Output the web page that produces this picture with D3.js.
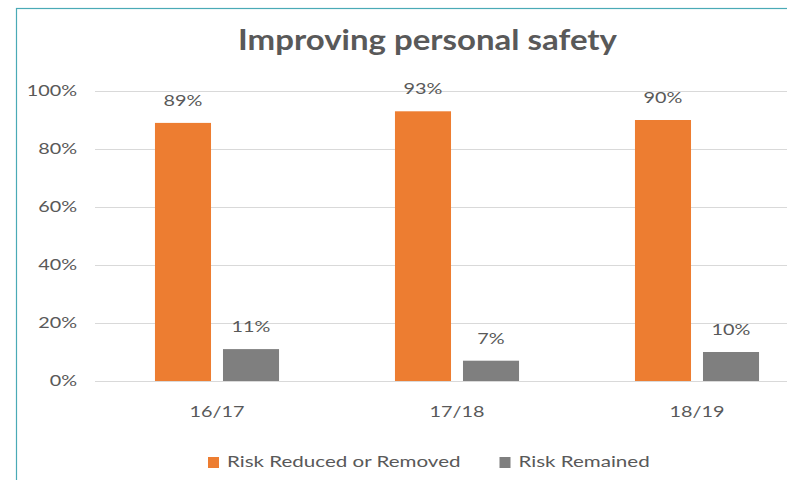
<!DOCTYPE html>
<html>
<head>
<meta charset="utf-8">
<script src="https://cdn.jsdelivr.net/npm/d3@7"></script>
<style>
  body { margin: 0; background: #fff; }
  svg { display: block; font-family: Lato, "Open Sans", sans-serif; }
</style>
</head>
<body>
<svg id="chart"></svg>
<script>
// chart data
const categories = ['16/17', '17/18', '18/19'];
const seriesNames = ['Risk Reduced or Removed', 'Risk Remained'];
const reducedValues = [89, 93, 90];
const remainedValues = [11, 7, 10];
const yTicks = [0, 20, 40, 60, 80, 100];

const colors = ['#ed7d31', '#7f7f7f'];
const textColor = '#595959';
const stretch = 1.32; // text in the picture is drawn wide

const width = 787, height = 480;
const margin = {top: 91, left: 95, right: 817, bottom: 381};

const svg = d3.select('#chart')
    .attr('width', width)
    .attr('height', height);

// widen a text element horizontally to mimic the reference
function widen(sel, k) {
  sel.each(function() {
    const w = this.getComputedTextLength();
    d3.select(this)
      .attr('textLength', w * k)
      .attr('lengthAdjust', 'spacingAndGlyphs');
  });
}

// outer frame (only left/top edges visible)
svg.append('rect')
    .attr('x', 16.5)
    .attr('y', 8.5)
    .attr('width', 900)
    .attr('height', 600)
    .attr('fill', 'none')
    .attr('stroke', '#4aaab6')
    .attr('stroke-width', 1.2);

// title
svg.append('text')
    .attr('x', 238)
    .attr('y', 50)
    .attr('font-size', 28)
    .attr('font-weight', 'bold')
    .attr('fill', textColor)
    .attr('textLength', 379)
    .attr('lengthAdjust', 'spacingAndGlyphs')
    .text('Improving personal safety');

// scales
const x0 = d3.scaleBand()
    .domain(categories)
    .range([97, margin.right])
    .paddingInner(0.483)
    .paddingOuter(0.2415);

const x1 = d3.scaleBand()
    .domain(seriesNames)
    .range([0, x0.bandwidth()])
    .paddingInner(0.176);

const y = d3.scaleLinear()
    .domain([0, 100])
    .range([margin.bottom, margin.top]);

// y axis with gridlines
const yAxisG = svg.append('g')
    .attr('transform', `translate(${margin.left},0)`)
    .call(d3.axisLeft(y)
        .tickValues(yTicks)
        .tickSize(-(margin.right - margin.left))
        .tickPadding(18)
        .tickFormat(d => d + '%'));
yAxisG.select('.domain').remove();
yAxisG.selectAll('.tick line')
    .attr('stroke', '#d9d9d9')
    .attr('shape-rendering', 'crispEdges');
yAxisG.selectAll('.tick text')
    .attr('fill', textColor)
    .attr('font-size', 15)
    .attr('font-family', 'Lato, sans-serif')
    .call(widen, stretch);

// x axis labels
const xAxisG = svg.append('g')
    .attr('transform', `translate(0,${margin.bottom})`)
    .call(d3.axisBottom(x0).tickSize(0).tickPadding(25));
xAxisG.select('.domain').remove();
xAxisG.selectAll('.tick text')
    .attr('fill', textColor)
    .attr('font-size', 15)
    .attr('font-family', 'Lato, sans-serif')
    .call(widen, stretch);

// bars
const rows = categories.map((c, i) => ({
  cat: c,
  values: [
    {key: seriesNames[0], value: reducedValues[i]},
    {key: seriesNames[1], value: remainedValues[i]}
  ]
}));

const groups = svg.selectAll('.group')
    .data(rows)
  .join('g')
    .attr('class', 'group')
    .attr('transform', d => `translate(${x0(d.cat)},0)`);

groups.selectAll('rect')
    .data(d => d.values)
  .join('rect')
    .attr('x', d => x1(d.key))
    .attr('width', x1.bandwidth())
    .attr('y', d => y(d.value))
    .attr('height', d => y(0) - y(d.value))
    .attr('fill', (d, i) => colors[i]);

groups.selectAll('.label')
    .data(d => d.values)
  .join('text')
    .attr('class', 'label')
    .attr('x', d => x1(d.key) + x1.bandwidth() / 2)
    .attr('y', d => y(d.value) - 17)
    .attr('text-anchor', 'middle')
    .attr('fill', textColor)
    .attr('font-size', 15)
    .text(d => d.value + '%')
    .call(widen, stretch);

// legend
const legendStretch = 1.37;
const legend = svg.append('g').attr('transform', 'translate(208,457)');
let lx = 0;
seriesNames.forEach((name, i) => {
  legend.append('rect')
      .attr('x', lx)
      .attr('y', 0)
      .attr('width', 11)
      .attr('height', 11)
      .attr('fill', colors[i]);
  const t = legend.append('text')
      .attr('x', lx + 19)
      .attr('y', 10)
      .attr('fill', textColor)
      .attr('font-size', 15)
      .text(name)
      .call(widen, legendStretch);
  lx += 19 + (+t.attr('textLength')) + 39;
});
</script>
</body>
</html>
